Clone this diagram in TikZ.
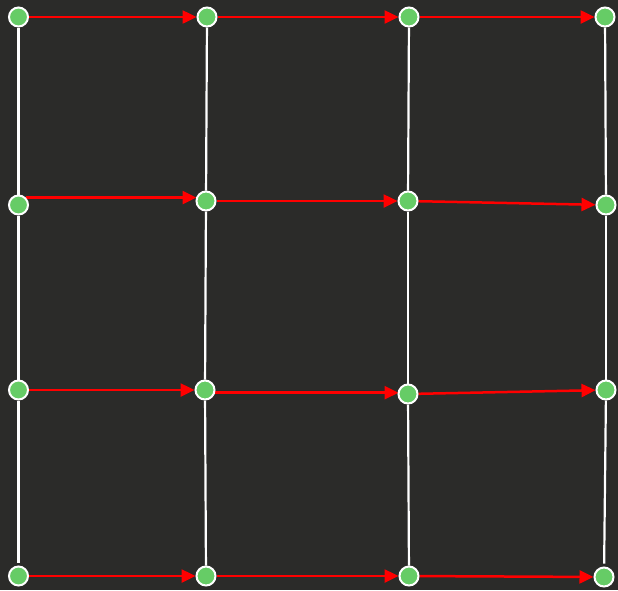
\documentclass[tikz,border=0pt]{standalone}
\usetikzlibrary{arrows.meta}
\definecolor{bg}{HTML}{2B2B29}
\definecolor{ngreen}{HTML}{66CC66}
\pgfdeclarelayer{back}
\pgfdeclarelayer{edges}
\pgfsetlayers{back,edges,main}
\begin{document}
\begin{tikzpicture}[x=1pt,y=-1pt,
  dot/.style={circle,fill=ngreen,draw=white,line width=2pt,minimum size=19pt,inner sep=0pt},
  vline/.style={draw=white,line width=2.2pt},
  harrow/.style={draw=red,line width=2.5pt,-{Triangle[length=14pt,width=13pt]}}]
\begin{pgfonlayer}{back}
\fill[bg] (0,0) rectangle (618,590);
\end{pgfonlayer}
\useasboundingbox (0,0) rectangle (618,590);
% row 1
\node[dot] (a1) at (18.5,17) {};
\node[dot] (b1) at (207,17) {};
\node[dot] (c1) at (409,17) {};
\node[dot] (d1) at (605,17) {};
% row 2
\node[dot] (a2) at (18.5,205) {};
\node[dot] (b2) at (206,201) {};
\node[dot] (c2) at (408,201) {};
\node[dot] (d2) at (606,205) {};
% row 3
\node[dot] (a3) at (18.5,390) {};
\node[dot] (b3) at (205,390) {};
\node[dot] (c3) at (408,394) {};
\node[dot] (d3) at (606,390) {};
% row 4
\node[dot] (a4) at (18.5,576) {};
\node[dot] (b4) at (206,576) {};
\node[dot] (c4) at (409,576) {};
\node[dot] (d4) at (604,577) {};
\begin{pgfonlayer}{edges}
% vertical lines
\foreach \c in {a,b,c,d}{
  \draw[vline] (\c1) -- (\c2);
  \draw[vline] (\c2) -- (\c3);
}
\draw[vline,shorten >=3pt] (a3) -- (a4);
\draw[vline] (b3) -- (b4);
\draw[vline] (c3) -- (c4);
\draw[vline,shorten >=3pt] (d3) -- (d4);
% horizontal arrows
\foreach \r in {1,2,3,4}{
  \ifnum\r=2\else\draw[harrow] (a\r) -- (b\r);\fi
}
\coordinate (s2) at (a2.45);
\draw[harrow,shorten >=9.5pt] (s2) -- (s2 -| b2);
\coordinate (s3) at (b3.-15);
\draw[harrow,shorten >=9.5pt] (s3) -- (s3 -| c3);
\foreach \r in {1,2,4}{
  \draw[harrow] (b\r) -- (c\r);
}
\foreach \r in {1,2,3,4}{
  \draw[harrow] (c\r) -- (d\r);
}
\end{pgfonlayer}
\end{tikzpicture}
\end{document}
